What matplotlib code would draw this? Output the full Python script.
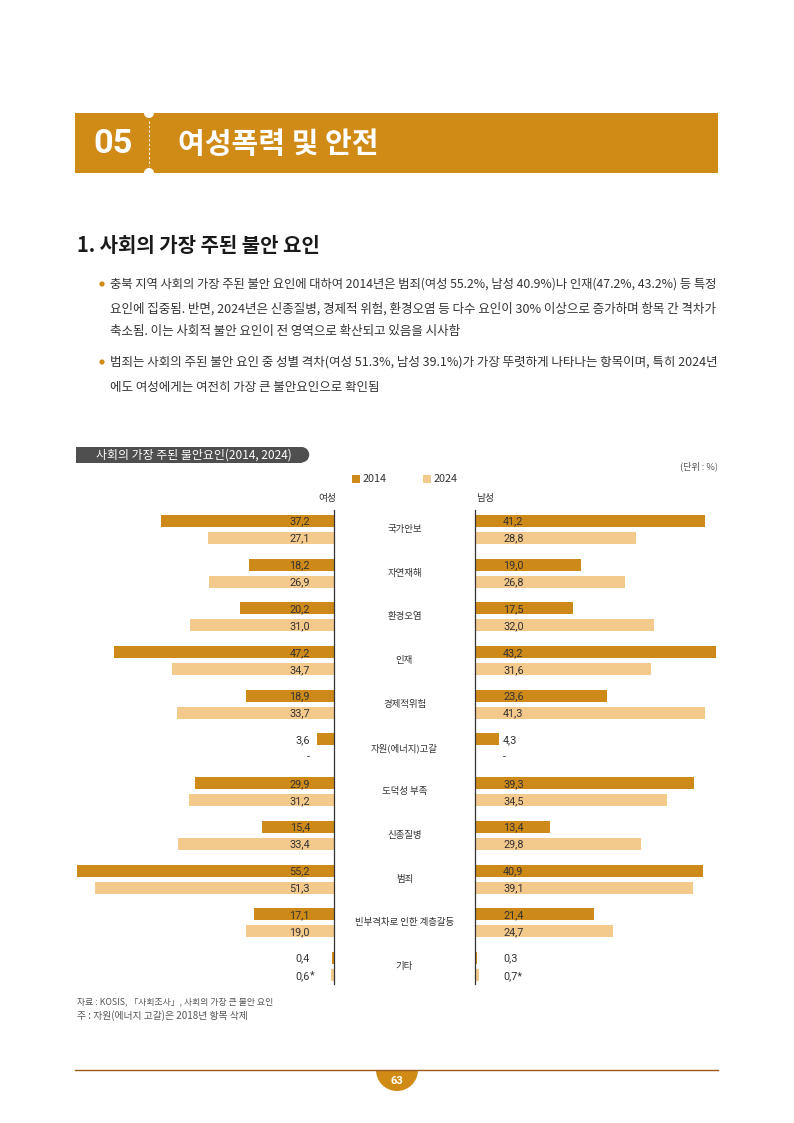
import numpy as np
import matplotlib
matplotlib.use("Agg")
import matplotlib.pyplot as plt
from matplotlib.patches import Rectangle, Circle, Wedge
import matplotlib.transforms as mtransforms

plt.rcParams['font.family'] = ['Noto Sans CJK KR', 'DejaVu Sans']

# ---------------- data ----------------
categories = ['국가안보', '자연재해', '환경오염', '인재', '경제적위험', '자원(에너지)고갈',
              '도덕성 부족', '신종질병', '범죄', '빈부격차로 인한 계층갈등', '기타']
years = ['2014', '2024']
women_2014 = [37.2, 18.2, 20.2, 47.2, 18.9, 3.6, 29.9, 15.4, 55.2, 17.1, 0.4]
women_2024 = [27.1, 26.9, 31.0, 34.7, 33.7, np.nan, 31.2, 33.4, 51.3, 19.0, 0.6]
men_2014 = [41.2, 19.0, 17.5, 43.2, 23.6, 4.3, 39.3, 13.4, 40.9, 21.4, 0.3]
men_2024 = [28.8, 26.8, 32.0, 31.6, 41.3, np.nan, 34.5, 29.8, 39.1, 24.7, 0.7]
women_2024_note = [''] * 10 + ['*']
men_2024_note = [''] * 10 + ['*']

C14 = '#CE8A18'
C24 = '#F4C98C'
ORANGE = '#D08B17'
TXT = '#333333'

W, H = 794, 1123
fig = plt.figure(figsize=(W / 100, H / 100), dpi=100)
renderer = fig.canvas.get_renderer()

bg = fig.add_axes([0, 0, 1, 1], zorder=0)
bg.set_xlim(0, W)
bg.set_ylim(H, 0)
bg.axis('off')


def fit(ax, x, y, s, width, size0=10, **kw):
    t = ax.text(x, y, s, fontsize=size0, **kw)
    bb = t.get_window_extent(renderer)
    t.set_fontsize(size0 * width / bb.width)
    return t


# ---------------- header band ----------------
bg.add_patch(Rectangle((75, 113), 643, 60, color=ORANGE, lw=0))
bg.add_patch(Circle((149, 113), 5, color='white', lw=0))
bg.add_patch(Circle((149, 173), 5, color='white', lw=0))
bg.plot([149, 149], [121, 166], color='white', lw=0.8, ls=(0, (2, 2)))
fit(bg, 93, 144, '05', 39, color='white', fontweight='bold', va='center',
    ha='left', family=['Roboto', 'DejaVu Sans'])
fit(bg, 178, 144, '여성폭력 및 안전', 200, color='white', fontweight='bold',
    va='center', ha='left')

# ---------------- section heading ----------------
fit(bg, 77, 245, '1. 사회의 가장 주된 불안 요인', 243, color='#1a1a1a',
    fontweight='bold', va='center', ha='left')

# ---------------- bullets ----------------
lines = [
    (284, '충북 지역 사회의 가장 주된 불안 요인에 대하여 2014년은 범죄(여성 55.2%, 남성 40.9%)나 인재(47.2%, 43.2%) 등 특정', 608, True),
    (309, '요인에 집중됨. 반면, 2024년은 신종질병, 경제적 위험, 환경오염 등 다수 요인이 30% 이상으로 증가하며 항목 간 격차가', 608, False),
    (332, '축소됨. 이는 사회적 불안 요인이 전 영역으로 확산되고 있음을 시사함', None, False),
    (362, '범죄는 사회의 주된 불안 요인 중 성별 격차(여성 51.3%, 남성 39.1%)가 가장 뚜렷하게 나타나는 항목이며, 특히 2024년', 608, True),
    (387, '에도 여성에게는 여전히 가장 큰 불안요인으로 확인됨', None, False),
]
last_size = 9
for y, s, w, dot in lines:
    if w is None:
        bg.text(110, y, s, fontsize=last_size, color=TXT, va='center', ha='left')
    else:
        t = fit(bg, 110, y, s, w, color=TXT, va='center', ha='left')
        last_size = t.get_fontsize()
    if dot:
        bg.add_patch(Circle((102, y), 2.6, color=ORANGE, lw=0))

# ---------------- chart title box ----------------
bg.add_patch(Rectangle((76, 447), 226, 15.5, color='#4F4F4F', lw=0))
bg.add_patch(Circle((301.5, 454.75), 7.75, color='#4F4F4F', lw=0))
fit(bg, 96, 455, '사회의 가장 주된 불안요인(2014, 2024)', 195, color='white',
    va='center', ha='left')
fit(bg, 718, 466, '(단위 : %)', 38, color='#555555', va='center', ha='right')

# legend
bg.add_patch(Rectangle((352, 475), 7.5, 7.5, color=C14, lw=0))
fit(bg, 363, 479, years[0], 24, color=TXT, va='center', ha='left')
bg.add_patch(Rectangle((423, 475), 7.5, 7.5, color=C24, lw=0))
fit(bg, 434, 479, years[1], 24, color=TXT, va='center', ha='left')

fit(bg, 336, 498, '여성', 18, color=TXT, va='center', ha='right')
fit(bg, 476, 498, '남성', 18, color=TXT, va='center', ha='left')

# ---------------- butterfly chart ----------------
def fr(x0, y0, x1, y1):
    return [x0 / W, 1 - y1 / H, (x1 - x0) / W, (y1 - y0) / H]


ax_w = fig.add_axes(fr(77, 510, 334, 984), zorder=2)
ax_m = fig.add_axes(fr(475, 510, 716, 984), zorder=2)
for a in (ax_w, ax_m):
    a.patch.set_alpha(0)

n = len(categories)
ypos = np.arange(n)
off = 0.195
bh = 0.275

ax_w.barh(ypos - off, women_2014, height=bh, color=C14, lw=0)
ax_w.barh(ypos + off, women_2024, height=bh, color=C24, lw=0)
ax_m.barh(ypos - off, men_2014, height=bh, color=C14, lw=0)
ax_m.barh(ypos + off, men_2024, height=bh, color=C24, lw=0)

ax_w.set_xlim(np.nanmax(women_2014 + women_2024), 0)
ax_m.set_xlim(0, np.nanmax(men_2014 + men_2024))
for a in (ax_w, ax_m):
    a.set_ylim(n - 1 + 0.40, -0.446)
    a.set_xticks([])
    a.set_yticks([])
    for sp in a.spines.values():
        sp.set_visible(False)
ax_w.spines['right'].set_visible(True)
ax_w.spines['right'].set_color('#333333')
ax_w.spines['right'].set_linewidth(0.9)
ax_m.spines['left'].set_visible(True)
ax_m.spines['left'].set_color('#333333')
ax_m.spines['left'].set_linewidth(0.9)


def fmt(v):
    if np.isnan(v):
        return '-'
    return f'{v:.1f}'.replace('.', ',')


VF = dict(fontsize=7.8, color=TXT, va='center', family=['Roboto', 'DejaVu Sans'],
          annotation_clip=False)
for i in range(n):
    for vals, notes in ((women_2014, None), (women_2024, women_2024_note)):
        yy = i - off if vals is women_2014 else i + off
        ax_w.annotate(fmt(vals[i]), xy=(0, yy), xytext=(-24 * 0.72, -0.5),
                      textcoords='offset points', ha='right', **VF)
        if notes is not None and notes[i]:
            ax_w.annotate(notes[i], xy=(0, yy), xytext=(-24 * 0.72, -0.5),
                          textcoords='offset points', ha='left', **VF)
    for vals, notes in ((men_2014, None), (men_2024, men_2024_note)):
        yy = i - off if vals is men_2014 else i + off
        ax_m.annotate(fmt(vals[i]) + (notes[i] if notes is not None else ''),
                      xy=(0, yy), xytext=(28 * 0.72, -0.5),
                      textcoords='offset points', ha='left', **VF)

trans = mtransforms.blended_transform_factory(fig.transFigure, ax_w.transData)
for i, c in enumerate(categories):
    fig.text(404.5 / W, i, c, transform=trans, ha='center', va='center',
             fontsize=6.8, color=TXT)

# ---------------- footnotes ----------------
fit(bg, 77, 1002, '자료 : KOSIS, 「사회조사」, 사회의 가장 큰 불안 요인', 195,
    color='#555555', va='center', ha='left')
fit(bg, 77, 1016, '주 : 자원(에너지 고갈)은 2018년 항목 삭제', 171,
    color='#555555', va='center', ha='left')

# ---------------- page footer ----------------
bg.plot([75, 718], [1070, 1070], color='#9B5A1A', lw=1.0)
bg.add_patch(Wedge((397, 1070), 21, 0, 180, color=ORANGE, lw=0))
bg.text(397, 1081, '63', color='white', fontsize=8, fontweight='bold',
        ha='center', va='center', family=['Roboto', 'DejaVu Sans'])

fig.savefig('out.png', dpi=100)
